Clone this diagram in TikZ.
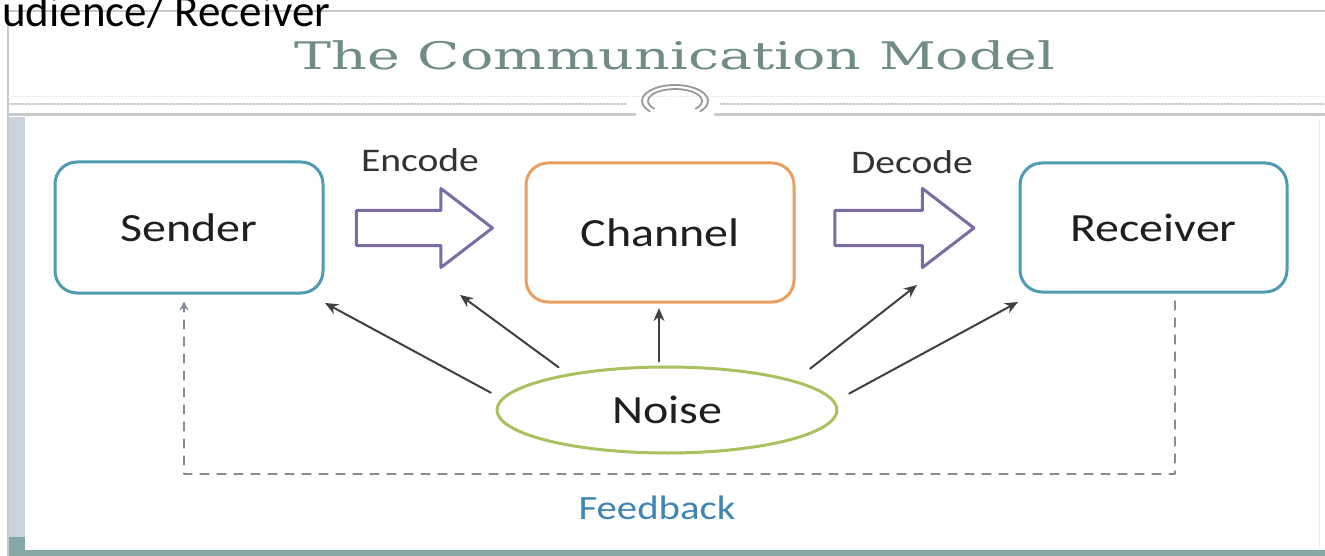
\documentclass[tikz,border=0pt]{standalone}
\usepackage{fontspec}
\usepackage{graphicx}
\usetikzlibrary{arrows.meta,shapes.geometric,shapes.arrows}
\newfontfamily\slidefont{Carlito}
\newfontfamily\titlefont{DejaVu Serif}
\definecolor{boxblue}{HTML}{4E9BB3}
\definecolor{chanorange}{HTML}{E9A062}
\definecolor{arrpurple}{HTML}{7D6BA6}
\definecolor{noisegreen}{HTML}{A9C15E}
\definecolor{fbgray}{HTML}{858C96}
\definecolor{fbblue}{HTML}{3F86B5}
\definecolor{titlegray}{HTML}{718C88}
\definecolor{framegray}{HTML}{C6CACA}
\definecolor{leftbar}{HTML}{C9D3DB}
\definecolor{slideteal}{HTML}{84A8A6}
\newcommand\wide[1]{\scalebox{1.2}[1]{#1}}

\begin{document}
\begin{tikzpicture}[x=1pt,y=-1pt,line cap=round,line join=round,
  actor/.style={draw=#1,line width=3pt,rounded corners=22pt,fill=white,inner sep=0pt,
    font=\slidefont\fontsize{40}{48}\selectfont,text=black!88},
  blockarr/.style={single arrow,draw=arrpurple,line width=3pt,fill=white,inner sep=0pt,
    text height=16pt,text depth=16pt,minimum width=76pt,single arrow head extend=22pt,
    single arrow tip angle=75,minimum height=#1},
  lbl/.style={font=\slidefont\fontsize{33}{40}\selectfont,text=black!80},
  noisearr/.style={draw=black!75,line width=2pt,-{Stealth[length=13pt,width=11pt]}},
  fback/.style={draw=fbgray,line width=2.8pt,dash pattern=on 8pt off 9pt}]
\useasboundingbox (0,0) rectangle (1325,556);
\fill[white] (0,0) rectangle (1325,556);

%slide frame
\fill[leftbar] (8,117) rectangle (25,540);
\fill[slideteal] (8,537) rectangle (25,556);
\fill[slideteal] (8,550) rectangle (1325,556);
\draw[framegray,line width=1.5pt] (1325,11) -- (8,11) -- (8,556);
\draw[black!8,line width=1pt] (1319,120) -- (1319,548);
\draw[black!10,line width=1pt,dotted] (8,97) -- (1325,97);
\draw[framegray,line width=1.2pt,dash pattern=on 2pt off 1.5pt] (8,104) -- (627,104);
\draw[framegray,line width=1.2pt,dash pattern=on 2pt off 1.5pt] (720,104) -- (1325,104);
\draw[framegray,line width=3pt] (8,115) -- (635,115);
\draw[framegray,line width=3pt] (715,115) -- (1325,115);
%rengas
\draw[black!40,line width=1.8pt] (675,101) ++(40:33 and 16) arc [start angle=40,end angle=-220,x radius=33,y radius=16];
\draw[black!40,line width=1.8pt] (675,101) ++(40:27 and 12) arc [start angle=40,end angle=-220,x radius=27,y radius=12];

%otsikot
\node[font=\slidefont\fontsize{45}{50}\selectfont,anchor=base west,inner sep=0pt] (aud) at (2,27) {udience/ Receiver};
\node[font=\titlefont\fontsize{38}{44}\selectfont,text=titlegray,anchor=base,inner sep=0pt] (title) at (675,70)
  {\scalebox{1.46}[1]{The Communication Model}};

%laatikot
\node[actor=boxblue,minimum width=268pt,minimum height=131pt] (sender) at (189,227.5) {\wide{Sender}};
\node[actor=chanorange,minimum width=268pt,minimum height=139pt] (channel) at (660,232.5) {\wide{Channel}};
\node[actor=boxblue,minimum width=267pt,minimum height=129pt] (receiver) at (1153.5,227.5) {\wide{Receiver}};
\node[ellipse,draw=noisegreen,line width=3pt,minimum width=340pt,minimum height=86pt,inner sep=0pt,
  font=\slidefont\fontsize{40}{48}\selectfont,text=black!88] (noise) at (667,410) {\wide{Noise}};

%nuolet
\node[blockarr=136pt] (enc) at (413,228) {};
\node[blockarr=139pt] (dec) at (893,228) {};
\node[lbl] (enctxt) at (420,160) {\wide{Encode}};
\node[lbl] (dectxt) at (912,162) {\wide{Decode}};

%kohina
\coordinate (t1) at (325,303);
\coordinate (t2) at (460,295);
\coordinate (t3) at (659,308);
\coordinate (t4) at (917,285);
\coordinate (t5) at (1018,302);
\foreach \a/\t/\s in {176/t1/12pt,160/t2/11pt,13/t4/19pt,3/t5/16pt}
{
\draw[noisearr,shorten <=\s] (noise.\a) -- (\t);
}
\draw[noisearr,shorten <=4pt] (noise.north -| t3) -- (t3);

%palaute
\coordinate (fbL) at (184,474);
\coordinate (fbR) at (1175,474);
\draw[fback,-{Stealth[length=9pt,width=9pt]},shorten <=8pt,shorten >=7pt]
  (receiver.south -| fbR) -- (fbR) -- (fbL) -- (sender.south -| fbL);
\node[font=\slidefont\fontsize{34}{40}\selectfont,text=fbblue] (fbtxt) at (657,508) {\wide{Feedback}};
\end{tikzpicture}
\end{document}
